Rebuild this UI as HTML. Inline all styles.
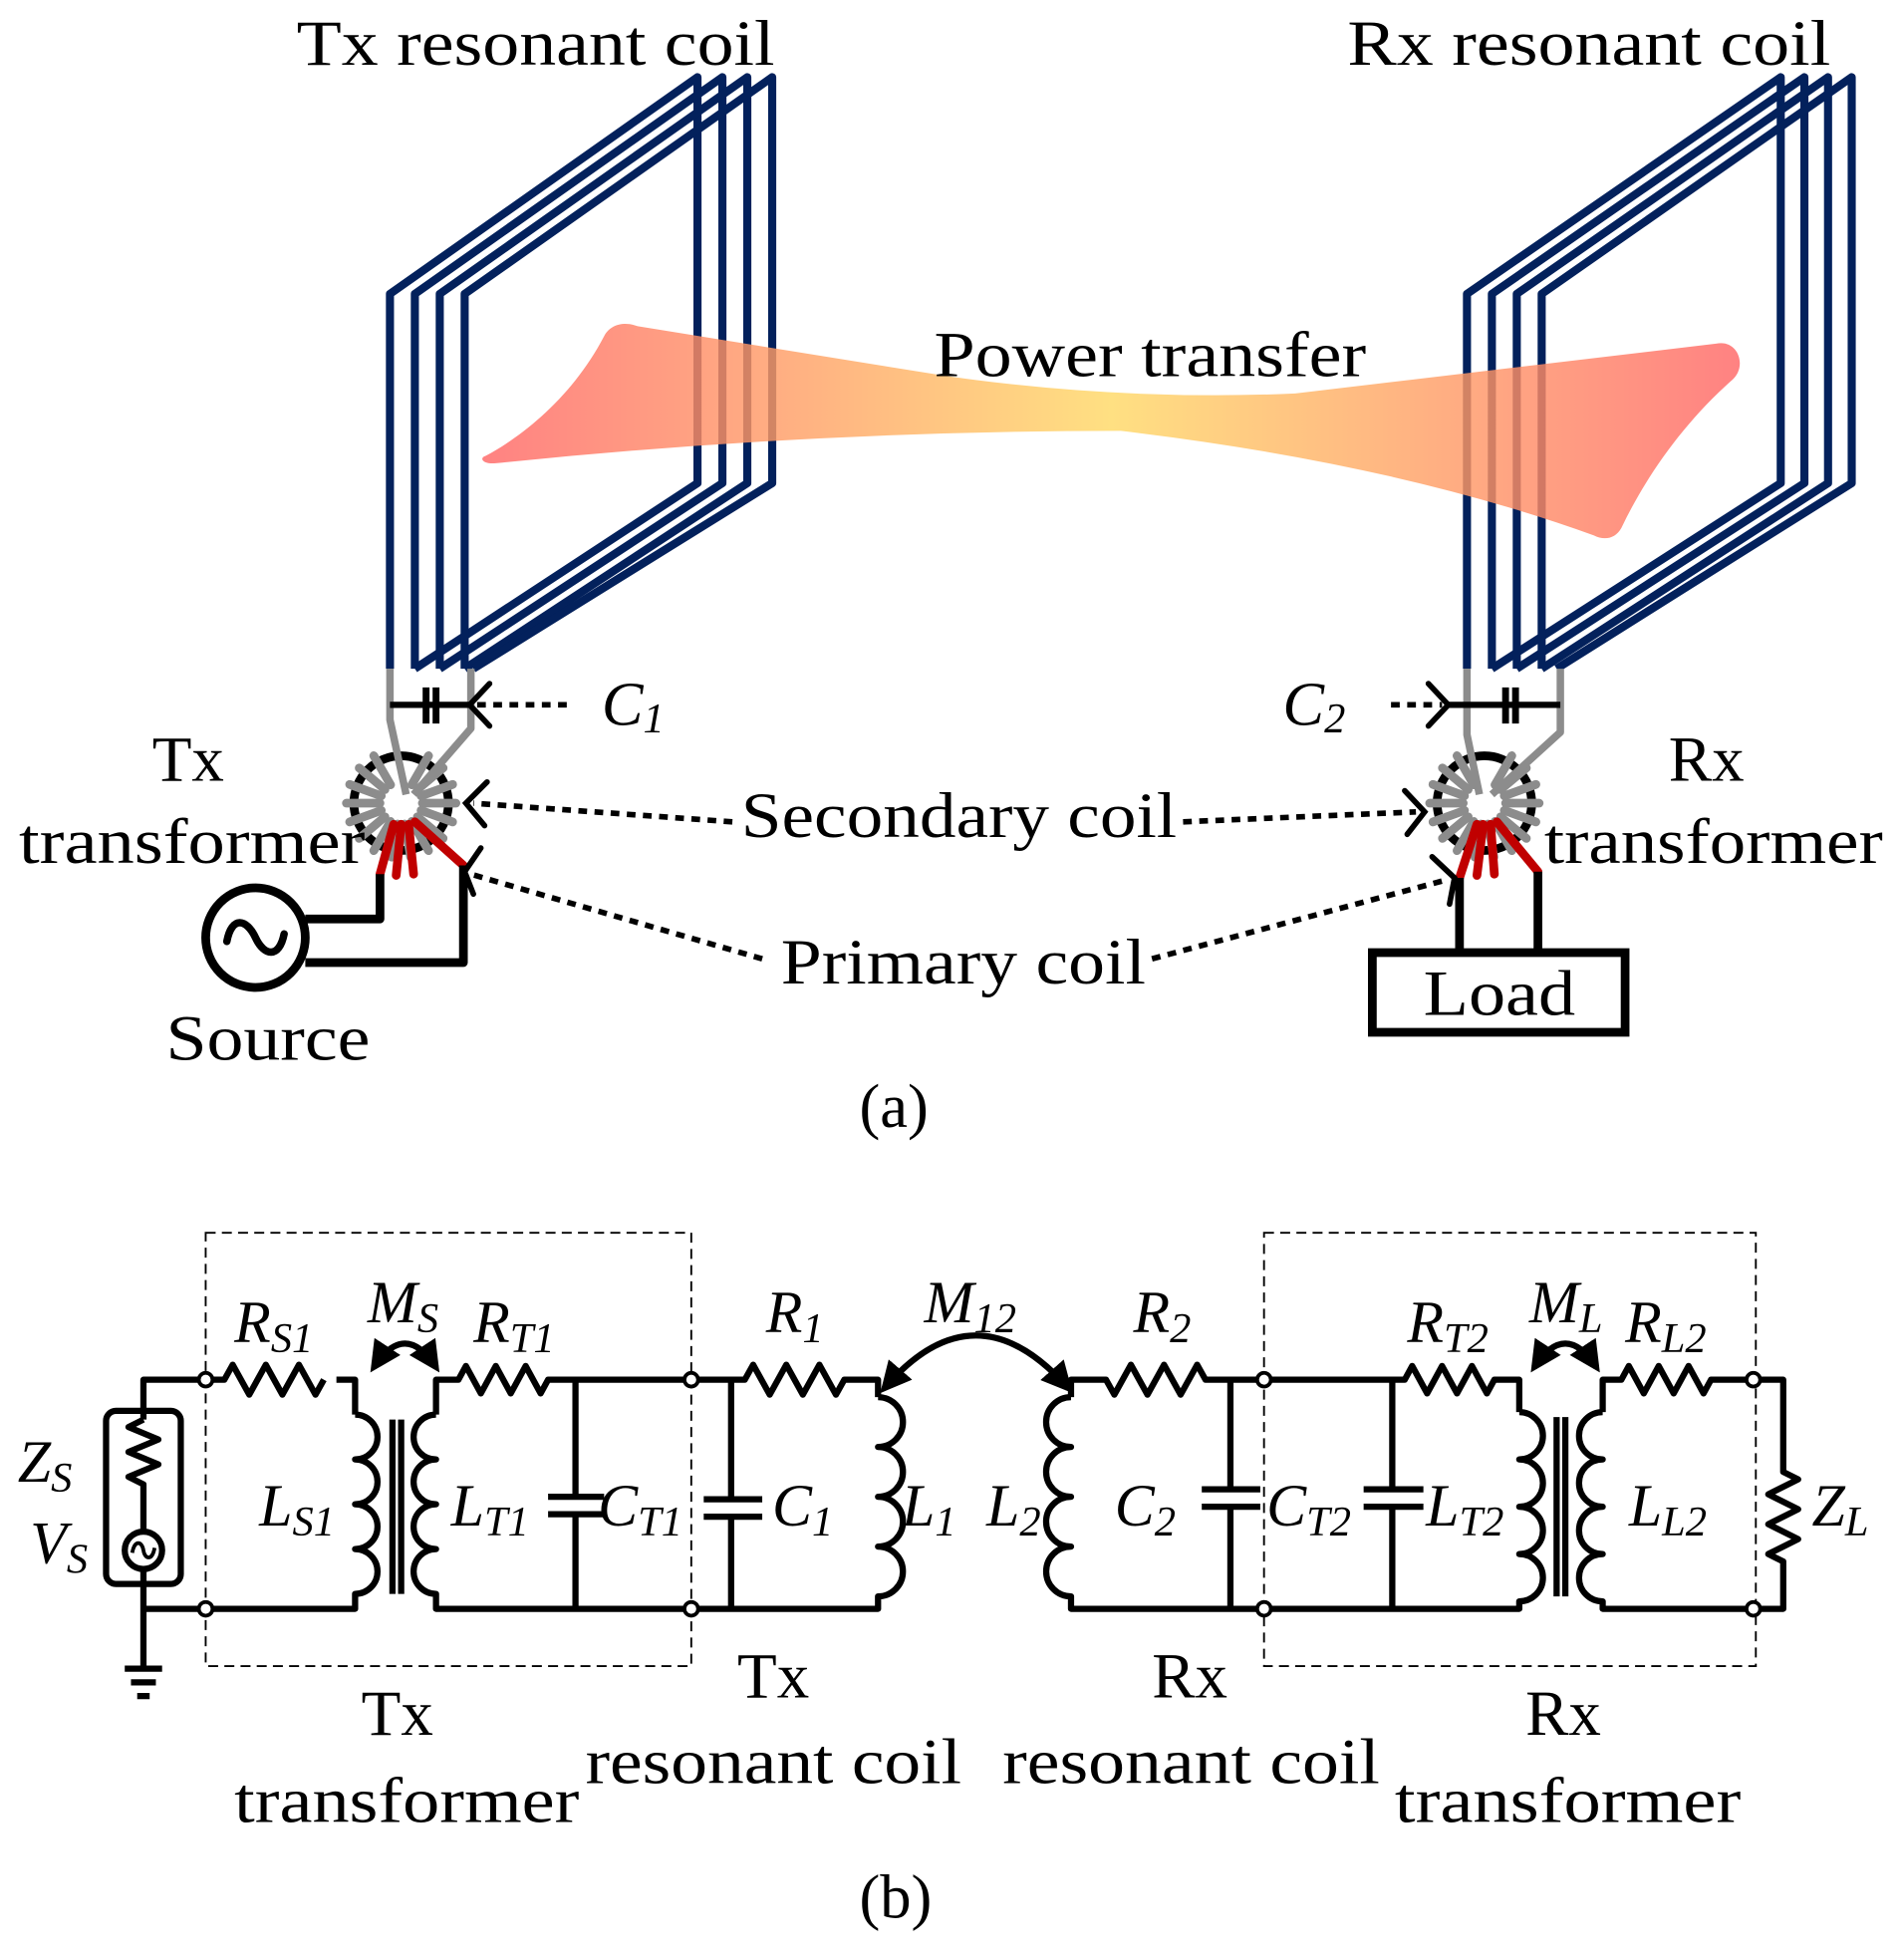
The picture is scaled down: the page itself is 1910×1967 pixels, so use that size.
<!DOCTYPE html>
<html><head><meta charset="utf-8"><style>
html,body{margin:0;padding:0;background:#fff;}
svg{display:block;}
text{font-family:"Liberation Serif","Times New Roman",serif;fill:#000;}
.it{font-style:italic;}
</style></head><body>
<svg width="1910" height="1967" viewBox="0 0 1528 1574" xmlns="http://www.w3.org/2000/svg">
<defs>
<linearGradient id="beam" x1="385" y1="0" x2="1400" y2="0" gradientUnits="userSpaceOnUse">
<stop offset="0" stop-color="#ff6666"/><stop offset="0.5" stop-color="#ffd966"/><stop offset="1" stop-color="#ff6666"/>
</linearGradient>
<marker id="ah" viewBox="0 0 10 10" refX="8" refY="5" markerWidth="5" markerHeight="5" orient="auto-start-reverse" markerUnits="strokeWidth">
<path d="M0,0 L10,5 L0,10 Z" fill="#000"/></marker>
<g id="spk" stroke="#8c8c8c" stroke-width="7" stroke-linecap="round">
<line x1="17" y1="0" x2="44" y2="0" transform="rotate(0)"/><line x1="17" y1="0" x2="44" y2="0" transform="rotate(20)"/><line x1="17" y1="0" x2="44" y2="0" transform="rotate(40)"/><line x1="17" y1="0" x2="44" y2="0" transform="rotate(60)"/><line x1="17" y1="0" x2="44" y2="0" transform="rotate(80)"/><line x1="17" y1="0" x2="44" y2="0" transform="rotate(100)"/><line x1="17" y1="0" x2="44" y2="0" transform="rotate(120)"/><line x1="17" y1="0" x2="44" y2="0" transform="rotate(140)"/><line x1="17" y1="0" x2="44" y2="0" transform="rotate(160)"/><line x1="17" y1="0" x2="44" y2="0" transform="rotate(180)"/><line x1="17" y1="0" x2="44" y2="0" transform="rotate(200)"/><line x1="17" y1="0" x2="44" y2="0" transform="rotate(220)"/><line x1="17" y1="0" x2="44" y2="0" transform="rotate(240)"/><line x1="17" y1="0" x2="44" y2="0" transform="rotate(300)"/><line x1="17" y1="0" x2="44" y2="0" transform="rotate(320)"/><line x1="17" y1="0" x2="44" y2="0" transform="rotate(340)"/>
</g>
</defs>

<text x="238" y="52" font-size="52" textLength="384" lengthAdjust="spacingAndGlyphs">Tx resonant coil</text>
<text x="1082" y="52" font-size="52" textLength="388" lengthAdjust="spacingAndGlyphs">Rx resonant coil</text>

<g fill="none" stroke="#03215c" stroke-width="6.5" stroke-linejoin="round">
<path d="M313,537 L313,236 L560,62 L560,388 L333,537"/>
<path d="M333,537 L333,236 L580,62 L580,388 L353,537"/>
<path d="M353,537 L353,236 L600,62 L600,388 L373,537"/>
<path d="M373,537 L373,236 L620,62 L620,388 L380,537"/>
</g>
<g fill="none" stroke="#03215c" stroke-width="6.5" stroke-linejoin="round">
<path d="M1178,537 L1178,236 L1430,62 L1430,388 L1198,537"/>
<path d="M1198,537 L1198,236 L1449,62 L1449,388 L1218,537"/>
<path d="M1218,537 L1218,236 L1468,62 L1468,388 L1238,537"/>
<path d="M1238,537 L1238,236 L1487,62 L1487,388 L1250,537"/>
</g>

<path d="M390,366 C420,350 460,318 485,270 C490,260 502,258 512,262 L760,302 Q900,322 1040,316 L1378,276 C1396,272 1404,295 1390,306 C1352,340 1322,382 1302,424 C1297,433 1288,434 1280,430 Q1120,372 900,346 Q650,346 398,372 C388,373 384,368 390,366 Z" fill="url(#beam)" opacity="0.82"/>
<text x="750" y="302" font-size="52" textLength="347" lengthAdjust="spacingAndGlyphs">Power transfer</text>

<!-- Tx transformer -->
<circle cx="322" cy="645" r="38" stroke="#000" stroke-width="7" fill="none"/>
<use href="#spk" transform="translate(322,645)"/>
<circle cx="322" cy="645" r="13" fill="#fff"/>
<g fill="none" stroke="#8c8c8c" stroke-width="6" stroke-linejoin="round">
<path d="M313,537 L313,578 L326,638"/>
<path d="M378,537 L378,585 L332,638"/>
</g>
<g stroke="#c00000" stroke-width="7" stroke-linecap="round">
<line x1="316" y1="662" x2="305" y2="702"/><line x1="322" y1="662" x2="318" y2="703"/><line x1="328" y1="662" x2="332" y2="702"/><line x1="333" y1="660" x2="372" y2="695"/>
</g>
<g fill="none" stroke="#000" stroke-width="5">
<line x1="313" y1="566" x2="378" y2="566"/>
<line x1="342" y1="552" x2="342" y2="581" stroke-width="5.5"/><line x1="350" y1="552" x2="350" y2="581" stroke-width="5.5"/>
</g>
<g fill="none" stroke="#000" stroke-width="7" stroke-linejoin="round">
<path d="M305,702 L305,738 L245,738"/>
<path d="M372,695 L372,773 L245,773"/>
<circle cx="205" cy="753" r="40"/>
<path d="M182,756 C186,735 198,738 205,753 C212,768 224,770 228,750" stroke-width="6" stroke-linecap="round"/>
</g>
<text x="122" y="627" font-size="52">Tx</text>
<text x="15" y="693" font-size="52" textLength="278" lengthAdjust="spacingAndGlyphs">transformer</text>
<text x="133" y="851" font-size="52" textLength="164" lengthAdjust="spacingAndGlyphs">Source</text>

<!-- Rx transformer -->
<circle cx="1192" cy="645" r="38" stroke="#000" stroke-width="7" fill="none"/>
<use href="#spk" transform="translate(1192,645)"/>
<circle cx="1192" cy="645" r="13" fill="#fff"/>
<g fill="none" stroke="#8c8c8c" stroke-width="6" stroke-linejoin="round">
<path d="M1178,537 L1178,590 L1188,638"/>
<path d="M1253,537 L1253,588 L1198,638"/>
</g>
<g stroke="#c00000" stroke-width="7" stroke-linecap="round">
<line x1="1186" y1="662" x2="1172" y2="705"/><line x1="1191" y1="662" x2="1186" y2="703"/><line x1="1197" y1="662" x2="1200" y2="702"/><line x1="1202" y1="660" x2="1235" y2="700"/>
</g>
<g fill="none" stroke="#000" stroke-width="5">
<line x1="1163" y1="566" x2="1253" y2="566"/>
<line x1="1209" y1="552" x2="1209" y2="581" stroke-width="5.5"/><line x1="1217" y1="552" x2="1217" y2="581" stroke-width="5.5"/>
</g>
<g fill="none" stroke="#000" stroke-width="7">
<line x1="1172" y1="705" x2="1172" y2="765"/><line x1="1235" y1="700" x2="1235" y2="765"/>
<rect x="1102" y="765" width="203" height="64"/>
</g>
<text x="1143" y="815" font-size="52" textLength="122" lengthAdjust="spacingAndGlyphs">Load</text>
<text x="1340" y="627" font-size="52">Rx</text>
<text x="1240" y="693" font-size="52" textLength="272" lengthAdjust="spacingAndGlyphs">transformer</text>

<g fill="none" stroke="#000" stroke-width="4.5" stroke-dasharray="7 6">
<line x1="455" y1="566" x2="380" y2="566"/>
<line x1="588" y1="660" x2="380" y2="645"/>
<line x1="612" y1="770" x2="378" y2="702"/>
<line x1="950" y1="660" x2="1137" y2="652"/>
<line x1="925" y1="770" x2="1160" y2="707"/>
<line x1="1117" y1="566" x2="1158" y2="566"/>
</g>
<g fill="none" stroke="#000" stroke-width="4.5" stroke-linecap="round">
<path d="M393,549 L377,566 L393,583"/>
<path d="M391,628 L374,645 L389,663"/>
<path d="M386,681 L373,700 L380,718"/>
<path d="M1128,635 L1144,652 L1130,670"/>
<path d="M1150,688 L1168,705 L1164,726"/>
<path d="M1147,549 L1163,566 L1147,583"/>
</g>
<text x="595" y="672" font-size="52" textLength="350" lengthAdjust="spacingAndGlyphs">Secondary coil</text>
<text x="627" y="790" font-size="52" textLength="293" lengthAdjust="spacingAndGlyphs">Primary coil</text>
<text class="it" x="483" y="582" font-size="50">C<tspan font-size="34" dy="6">1</tspan></text>
<text class="it" x="1030" y="582" font-size="50">C<tspan font-size="34" dy="6">2</tspan></text>
<text x="690" y="905" font-size="50">(a)</text>

<!-- (b) -->
<g fill="none" stroke="#000" stroke-width="1.5" stroke-dasharray="8 5">
<rect x="165" y="990" width="390" height="348"/>
<rect x="1015" y="990" width="395" height="348"/>
</g>
<g fill="none" stroke="#000" stroke-width="5" stroke-linejoin="round">
<path d="M165,1108 L115,1108 L115,1140"/>
<path d="M115,1140 l-12,6 l24,10 l-24,10 l24,10 l-24,10 l12,6 L115,1230"/>
<rect x="85" y="1133" width="60" height="139" rx="8"/>
<circle cx="115" cy="1245" r="15"/>
<path d="M106,1247 C108,1236 114,1238 115,1245 C116,1252 122,1254 124,1243" stroke-width="3"/>
<path d="M115,1260 L115,1340 M165,1292 L115,1292"/>
<path d="M100,1340 L130,1340 M105,1351 L125,1351 M110,1362 L120,1362"/>
<path d="M170,1108 L180,1108 l6.7,-12 l13.3,24 l13.3,-24 l13.3,24 l13.3,-24 l13.3,24 l6.7,-12"/>
<path d="M270,1108 L285,1108 L285,1136"/>
<path d="M285,1136 a18,18 0 0 1 0,36 a18,18 0 0 1 0,36 a18,18 0 0 1 0,36 a18,18 0 0 1 0,36 L285,1292 L170,1292"/>
<line x1="315" y1="1140" x2="315" y2="1280"/><line x1="322" y1="1140" x2="322" y2="1280"/>
<path d="M350,1136 a18,18 0 0 0 0,36 a18,18 0 0 0 0,36 a18,18 0 0 0 0,36 a18,18 0 0 0 0,36 L350,1292 L550,1292"/>
<path d="M350,1136 L350,1108 L368,1108 l6,-11 l12,22 l12,-22 l12,22 l12,-22 l12,22 l6,-11 L550,1108"/>
<path d="M462,1108 L462,1202 M440,1202 L485,1202 M440,1216 L485,1216 M462,1216 L462,1292"/>
<path d="M560,1108 L598,1108 l6.7,-12 l13.3,24 l13.3,-24 l13.3,24 l13.3,-24 l13.3,24 l6.7,-12 L705,1108 L705,1122"/>
<path d="M705,1122 a20,20 0 0 1 0,40 a20,20 0 0 1 0,40 a20,20 0 0 1 0,40 a20,20 0 0 1 0,40 L705,1292 L560,1292"/>
<path d="M587,1108 L587,1204 M565,1204 L612,1204 M565,1218 L612,1218 M587,1218 L587,1292"/>
<path d="M1010,1108 L968,1108 l-6.7,-12 l-13.3,24 l-13.3,-24 l-13.3,24 l-13.3,-24 l-13.3,24 l-6.7,-12 L860,1108 L860,1122"/>
<path d="M860,1122 a20,20 0 0 0 0,40 a20,20 0 0 0 0,40 a20,20 0 0 0 0,40 a20,20 0 0 0 0,40 L860,1292 L1010,1292"/>
<path d="M988,1108 L988,1196 M965,1196 L1012,1196 M965,1210 L1012,1210 M988,1210 L988,1292"/>
<path d="M1020,1108 L1128,1108 l6,-11 l12,22 l12,-22 l12,22 l12,-22 l12,22 l6,-11 L1220,1108 L1220,1134"/>
<path d="M1220,1134 a19,19 0 0 1 0,38 a19,19 0 0 1 0,38 a19,19 0 0 1 0,38 a19,19 0 0 1 0,38 L1220,1292 L1020,1292"/>
<path d="M1118,1108 L1118,1196 M1095,1196 L1143,1196 M1095,1210 L1143,1210 M1118,1210 L1118,1292"/>
<line x1="1250" y1="1138" x2="1250" y2="1282"/><line x1="1257" y1="1138" x2="1257" y2="1282"/>
<path d="M1287,1134 a19,19 0 0 0 0,38 a19,19 0 0 0 0,38 a19,19 0 0 0 0,38 a19,19 0 0 0 0,38 L1287,1292 L1403,1292"/>
<path d="M1287,1134 L1287,1108 L1302,1108 l6,-11 l12,22 l12,-22 l12,22 l12,-22 l12,22 l6,-11 L1403,1108"/>
<path d="M1413,1108 L1432,1108 L1432,1182 l12,6 l-24,12 l24,12 l-24,12 l24,12 l-24,12 l12,6 L1432,1292 L1413,1292"/>
<path d="M300,1098 Q325,1060 350,1098" marker-start="url(#ah)" marker-end="url(#ah)"/>
<path d="M710,1115 Q783,1030 858,1115" marker-start="url(#ah)" marker-end="url(#ah)"/>
<path d="M1232,1098 Q1257,1060 1282,1098" marker-start="url(#ah)" marker-end="url(#ah)"/>
</g>
<g fill="#fff" stroke="#000" stroke-width="3">
<circle cx="165" cy="1108" r="5.5"/><circle cx="165" cy="1292" r="5.5"/>
<circle cx="555" cy="1108" r="5.5"/><circle cx="555" cy="1292" r="5.5"/>
<circle cx="1015" cy="1108" r="5.5"/><circle cx="1015" cy="1292" r="5.5"/>
<circle cx="1408" cy="1108" r="5.5"/><circle cx="1408" cy="1292" r="5.5"/>
</g>

<g font-size="48">
<text class="it" x="14" y="1190">Z<tspan font-size="34" dy="8">S</tspan></text>
<text class="it" x="24" y="1255">V<tspan font-size="34" dy="8">S</tspan></text>
<text class="it" x="188" y="1078">R<tspan font-size="34" dy="8">S1</tspan></text>
<text class="it" x="295" y="1062">M<tspan font-size="34" dy="8">S</tspan></text>
<text class="it" x="380" y="1078">R<tspan font-size="34" dy="8">T1</tspan></text>
<text class="it" x="208" y="1225">L<tspan font-size="34" dy="8">S1</tspan></text>
<text class="it" x="362" y="1225">L<tspan font-size="34" dy="8">T1</tspan></text>
<text class="it" x="480" y="1225">C<tspan font-size="34" dy="8">T1</tspan></text>
<text class="it" x="615" y="1070">R<tspan font-size="34" dy="8">1</tspan></text>
<text class="it" x="620" y="1225">C<tspan font-size="34" dy="8">1</tspan></text>
<text class="it" x="724" y="1225">L<tspan font-size="34" dy="8">1</tspan></text>
<text class="it" x="742" y="1062">M<tspan font-size="34" dy="8">12</tspan></text>
<text class="it" x="910" y="1070">R<tspan font-size="34" dy="8">2</tspan></text>
<text class="it" x="792" y="1225">L<tspan font-size="34" dy="8">2</tspan></text>
<text class="it" x="895" y="1225">C<tspan font-size="34" dy="8">2</tspan></text>
<text class="it" x="1017" y="1225">C<tspan font-size="34" dy="8">T2</tspan></text>
<text class="it" x="1145" y="1225">L<tspan font-size="34" dy="8">T2</tspan></text>
<text class="it" x="1130" y="1078">R<tspan font-size="34" dy="8">T2</tspan></text>
<text class="it" x="1228" y="1062">M<tspan font-size="34" dy="8">L</tspan></text>
<text class="it" x="1305" y="1078">R<tspan font-size="34" dy="8">L2</tspan></text>
<text class="it" x="1308" y="1225">L<tspan font-size="34" dy="8">L2</tspan></text>
<text class="it" x="1455" y="1225">Z<tspan font-size="34" dy="8">L</tspan></text>
</g>
<g font-size="52">
<text x="290" y="1393">Tx</text>
<text x="188" y="1463" textLength="277" lengthAdjust="spacingAndGlyphs">transformer</text>
<text x="592" y="1363">Tx</text>
<text x="470" y="1432" textLength="302" lengthAdjust="spacingAndGlyphs">resonant coil</text>
<text x="925" y="1363">Rx</text>
<text x="805" y="1432" textLength="303" lengthAdjust="spacingAndGlyphs">resonant coil</text>
<text x="1225" y="1393">Rx</text>
<text x="1120" y="1463" textLength="278" lengthAdjust="spacingAndGlyphs">transformer</text>
</g>
<text x="690" y="1540" font-size="50">(b)</text>
</svg>
</body></html>
